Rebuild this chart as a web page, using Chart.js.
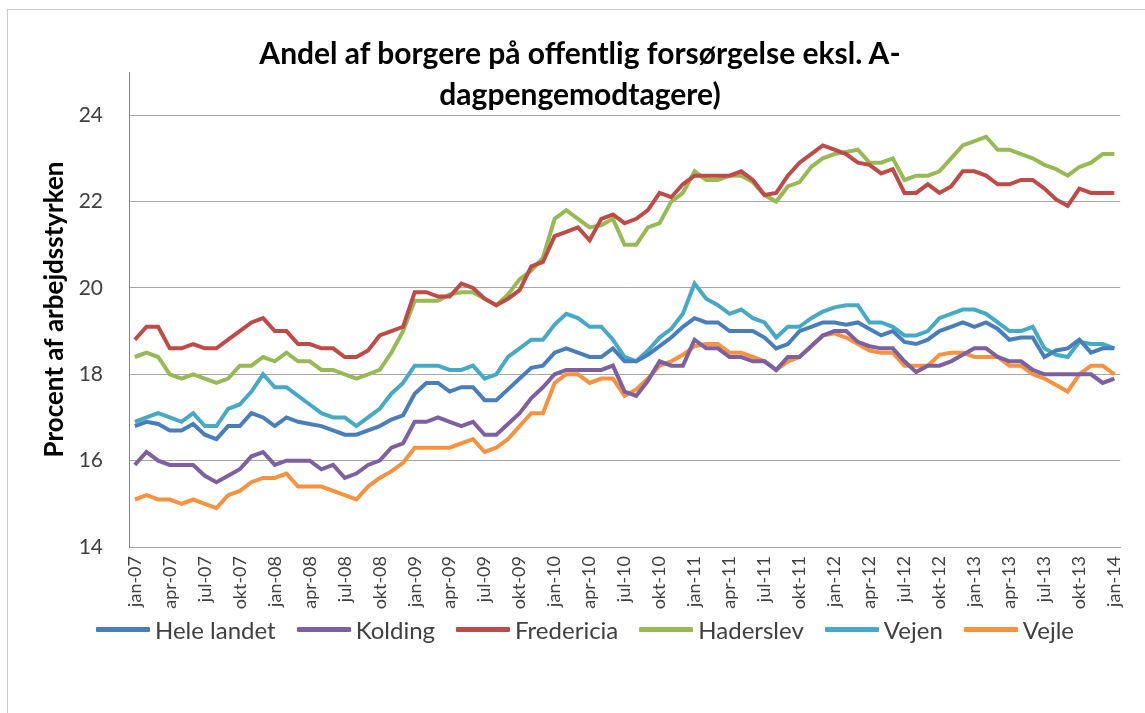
<!DOCTYPE html>
<html>
<head>
<meta charset="utf-8">
<script src="https://cdn.jsdelivr.net/npm/chart.js@4.4.1/dist/chart.umd.min.js"></script>
<style>
  html, body { margin: 0; padding: 0; background: #ffffff; }
  #wrap { position: relative; width: 1145px; height: 713px; overflow: hidden; background: #fff; }
  #frame { position: absolute; left: 7px; top: 9px; width: 1150px; height: 720px; border: 1px solid #c9c9c9; box-sizing: border-box; }
  #title { position: absolute; left: 0; top: 32px; width: 1160px; text-align: center;
           font-family: Lato, "Open Sans", sans-serif; font-weight: bold; font-size: 30px; line-height: 41px; color: #000; }
  #legend { position: absolute; left: 0; top: 613px; width: 1170px; height: 32px;
            display: flex; justify-content: center; align-items: center;
            font-family: Lato, "Open Sans", sans-serif; font-size: 24px; color: #404040; white-space: nowrap; }
  #legend .item { display: flex; align-items: center; margin-right: 21px; }
  #legend .item:last-child { margin-right: 0; }
  #legend .swatch { display: inline-block; width: 54px; height: 5px; margin-right: 5px; border-radius: 1px; }
  canvas { position: absolute; left: 0; top: 0; }
</style>
</head>
<body>
<div id="wrap">
  <div id="frame"></div>
  <canvas id="c" width="1145" height="713"></canvas>
  <div id="title">Andel af borgere på offentlig forsørgelse eksl. A-<br>dagpengemodtagere)</div>
  <div id="legend"></div>
</div>
<script>
const monthNames = ["jan","feb","mar","apr","maj","jun","jul","aug","sep","okt","nov","dec"];
const years = ["07","08","09","10","11","12","13","14"];
const categories = [];
for (let y = 0; y < years.length; y++) {
  for (let m = 0; m < 12; m++) {
    if (y === years.length - 1 && m > 0) break;
    categories.push(monthNames[m] + "-" + years[y]);
  }
}
const yTicks = [14, 16, 18, 20, 22, 24];

const heleLandet = [
  16.8,16.9,16.85,16.7,16.7,16.85,16.6,16.5,16.8,16.8,17.1,17.0,16.8,17.0,16.9,16.85,16.8,16.7,16.6,16.6,16.7,
  16.8,16.95,17.05,17.55,17.8,17.8,17.6,17.7,17.7,17.4,17.4,17.65,17.9,18.15,18.2,18.5,18.6,18.5,18.4,18.4,
  18.6,18.3,18.3,18.45,18.65,18.85,19.1,19.3,19.2,19.2,19.0,19.0,19.0,18.85,18.6,18.7,19.0,19.1,19.2,19.2,
  19.15,19.2,19.05,18.9,19.0,18.75,18.7,18.8,19.0,19.1,19.2,19.1,19.2,19.05,18.8,18.85,18.85,18.4,18.55,18.6,
  18.8,18.5,18.6,18.6
];
const kolding = [
  15.9,16.2,16.0,15.9,15.9,15.9,15.65,15.5,15.65,15.8,16.1,16.2,15.9,16.0,16.0,16.0,15.8,15.9,15.6,15.7,15.9,
  16.0,16.3,16.4,16.9,16.9,17.0,16.9,16.8,16.9,16.6,16.6,16.85,17.1,17.45,17.7,18.0,18.1,18.1,18.1,18.1,
  18.2,17.6,17.5,17.85,18.3,18.2,18.2,18.8,18.6,18.6,18.4,18.4,18.3,18.3,18.1,18.4,18.4,18.65,18.9,19.0,
  19.0,18.75,18.65,18.6,18.6,18.3,18.05,18.2,18.2,18.3,18.45,18.6,18.6,18.4,18.3,18.3,18.1,18.0,18.0,18.0,
  18.0,18.0,17.8,17.9
];
const fredericia = [
  18.8,19.1,19.1,18.6,18.6,18.7,18.6,18.6,18.8,19.0,19.2,19.3,19.0,19.0,18.7,18.7,18.6,18.6,18.4,18.4,18.55,
  18.9,19.0,19.1,19.9,19.9,19.8,19.8,20.1,20.0,19.75,19.6,19.75,19.95,20.5,20.6,21.2,21.3,21.4,21.1,21.6,
  21.7,21.5,21.6,21.8,22.2,22.1,22.4,22.6,22.6,22.6,22.6,22.7,22.5,22.15,22.2,22.6,22.9,23.1,23.3,23.2,
  23.1,22.9,22.85,22.65,22.75,22.2,22.2,22.4,22.2,22.35,22.7,22.7,22.6,22.4,22.4,22.5,22.5,22.3,22.05,21.9,
  22.3,22.2,22.2,22.2
];
const haderslev = [
  18.4,18.5,18.4,18.0,17.9,18.0,17.9,17.8,17.9,18.2,18.2,18.4,18.3,18.5,18.3,18.3,18.1,18.1,18.0,17.9,18.0,
  18.1,18.5,19.0,19.7,19.7,19.7,19.85,19.9,19.9,19.75,19.6,19.85,20.2,20.4,20.7,21.6,21.8,21.6,21.4,21.45,
  21.6,21.0,21.0,21.4,21.5,22.0,22.2,22.7,22.5,22.5,22.6,22.6,22.45,22.15,22.0,22.35,22.45,22.8,23.0,23.1,
  23.15,23.2,22.9,22.9,23.0,22.5,22.6,22.6,22.7,23.0,23.3,23.4,23.5,23.2,23.2,23.1,23.0,22.85,22.75,22.6,
  22.8,22.9,23.1,23.1
];
const vejen = [
  16.9,17.0,17.1,17.0,16.9,17.1,16.8,16.8,17.2,17.3,17.6,18.0,17.7,17.7,17.5,17.3,17.1,17.0,17.0,16.8,17.0,
  17.2,17.55,17.8,18.2,18.2,18.2,18.1,18.1,18.2,17.9,18.0,18.4,18.6,18.8,18.8,19.15,19.4,19.3,19.1,19.1,
  18.8,18.4,18.3,18.55,18.85,19.05,19.4,20.1,19.75,19.6,19.4,19.5,19.3,19.2,18.85,19.1,19.1,19.3,19.45,19.55,
  19.6,19.6,19.2,19.2,19.1,18.9,18.9,19.0,19.3,19.4,19.5,19.5,19.4,19.2,19.0,19.0,19.1,18.6,18.45,18.4,
  18.75,18.7,18.7,18.6
];
const vejle = [
  15.1,15.2,15.1,15.1,15.0,15.1,15.0,14.9,15.2,15.3,15.5,15.6,15.6,15.7,15.4,15.4,15.4,15.3,15.2,15.1,15.4,
  15.6,15.75,15.95,16.3,16.3,16.3,16.3,16.4,16.5,16.2,16.3,16.5,16.8,17.1,17.1,17.8,18.0,18.0,17.8,17.9,
  17.9,17.5,17.65,17.9,18.2,18.3,18.45,18.65,18.7,18.7,18.5,18.5,18.4,18.3,18.1,18.3,18.4,18.65,18.9,18.95,
  18.85,18.7,18.55,18.5,18.5,18.2,18.2,18.2,18.45,18.5,18.5,18.4,18.4,18.4,18.2,18.2,18.0,17.9,17.75,17.6,
  18.0,18.2,18.2,18.0
];

const seriesNames = ["Hele landet","Kolding","Fredericia","Haderslev","Vejen","Vejle"];
const seriesData = [heleLandet, kolding, fredericia, haderslev, vejen, vejle];
const seriesColors = ["#4a7ebb","#7d60a0","#be4b48","#98b954","#46aac5","#f69240"];

const FONT = "Lato, 'Open Sans', sans-serif";

// legend (HTML text, built from the series names and colours)
const legendEl = document.getElementById("legend");
seriesNames.forEach((name, i) => {
  const item = document.createElement("span");
  item.className = "item";
  const sw = document.createElement("span");
  sw.className = "swatch";
  sw.style.background = seriesColors[i];
  const tx = document.createElement("span");
  tx.textContent = name;
  item.appendChild(sw);
  item.appendChild(tx);
  legendEl.appendChild(item);
});

const datasets = seriesNames.map((name, i) => ({
  label: name,
  data: seriesData[i],
  borderColor: seriesColors[i],
  backgroundColor: seriesColors[i],
  borderWidth: 4,
  pointRadius: 0,
  pointHoverRadius: 0,
  tension: 0,
  fill: false
}));

new Chart(document.getElementById("c"), {
  type: "line",
  data: { labels: categories, datasets },
  options: {
    responsive: false,
    animation: false,
    events: [],
    layout: { padding: { left: 34, right: 8, top: 72, bottom: 96 } },
    plugins: {
      title: { display: false },
      tooltip: { enabled: false },
      legend: { display: false }
    },
    scales: {
      x: {
        type: "category",
        offset: true,
        afterFit: (scale) => { scale.height = 70; },
        grid: { display: false, drawTicks: false },
        border: { display: true, color: "#a6a6a6", width: 1 },
        ticks: {
          autoSkip: false,
          maxRotation: 90,
          minRotation: 90,
          padding: 9,
          color: "#404040",
          font: { family: FONT, size: 18 },
          callback: function(value, index) { return index % 3 === 0 ? this.getLabelForValue(value) : ""; }
        }
      },
      y: {
        min: 14,
        max: 25,
        afterBuildTicks: (scale) => { scale.ticks = yTicks.map(v => ({ value: v })); },
        afterFit: (scale) => { scale.width = 95; },
        grid: { color: "#a6a6a6", lineWidth: 1, drawTicks: false },
        border: { display: true, color: "#868686", width: 1 },
        ticks: {
          padding: 26,
          color: "#404040",
          font: { family: FONT, size: 21 }
        },
        title: {
          display: true,
          text: "Procent af arbejdsstyrken",
          color: "#000",
          font: { family: FONT, size: 26, weight: "bold" },
          padding: { top: 5, bottom: 0 }
        }
      }
    }
  }
});
</script>
</body>
</html>
